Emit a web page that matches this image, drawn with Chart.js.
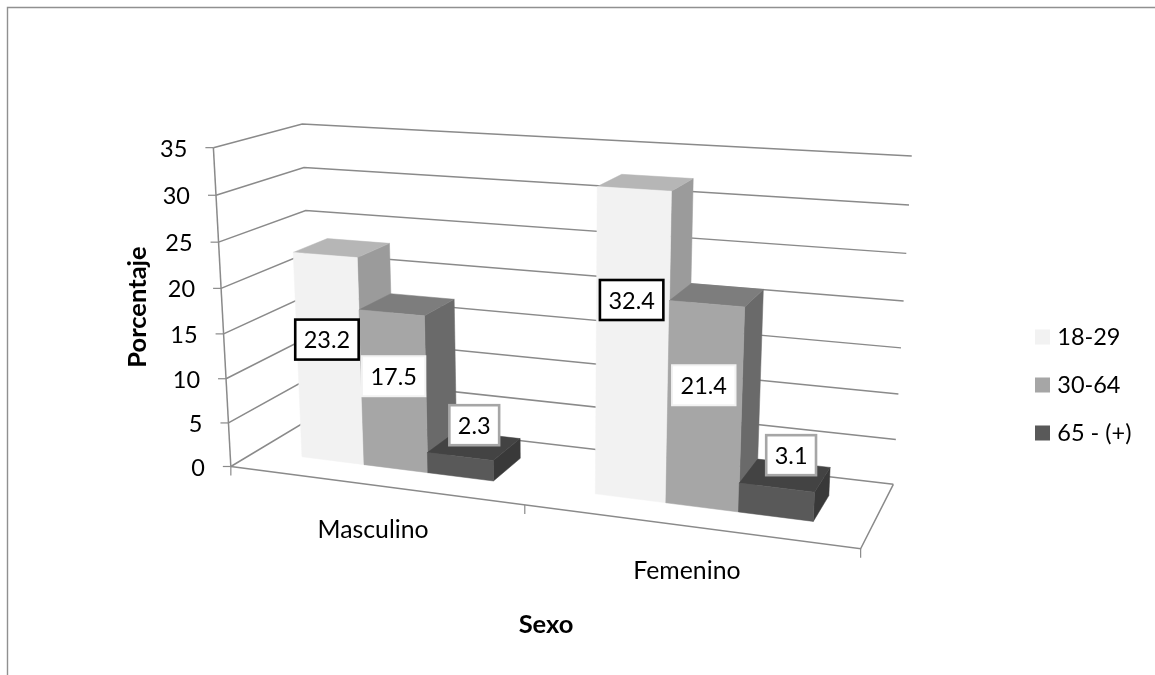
<!DOCTYPE html>
<html><head><meta charset="utf-8">
<style>html,body{margin:0;padding:0;background:#fff}canvas{display:block}</style>
<script src="https://cdn.jsdelivr.net/npm/chart.js@4"></script>
</head><body>
<canvas id="c" width="1155" height="675"></canvas>
<script>
const categories = ["Masculino", "Femenino"];
const seriesNames = ["18-29", "30-64", "65 - (+)"];
const values1829 = [23.2, 32.4];
const values3064 = [17.5, 21.4];
const values65 = [2.3, 3.1];
const yMin = 0, yMax = 35, yStep = 5;

const FONT = "Lato";
const FS_NUM = 23.5, FS_CAT = 24.8, FS_TITLE = 25.5;
const frontColors = ["#f2f2f2", "#a6a6a6", "#595959"];
const labelBorders = ["#000000", "#f2f2f2", "#a6a6a6"];
const labelBorderWidths = [2.6, 2, 2.6];
const labelNudge = [[[-2,-20],[-0.5,-47.5]],[[0,-15.5],[-0.5,-22]],[[14,-41.5],[15,-47]]];
const depth = [0.29, 0.70];

// camera calibration of the 3-D box: [u, d, value share] -> [screen x, y]
const calib = [
 [0,0,0,230.7,466],[0,0,1,213.3,147.7],[0,1,1,302.3,124],[1,1,1,911.7,155.7],
 [1,1,0,893.3,484],[1,0,0,860.7,549],[0,1,0,314,417],
 [0,0,5/7,218.3,242.3],[0,1,5/7,305.7,210],[1,1,5/7,906.3,253.3],
 [1,1,3/7,901,348],[0,0,3/7,224,334],[1,1,6/7,909,205.3],[0,1,6/7,304,167.7]
];
function solveCamera(pts){
  const A=[],b=[];
  for(const [X,Y,Z,x,y] of pts){
    A.push([X,Y,Z,1,0,0,0,0,-x*X,-x*Y,-x*Z]); b.push(x);
    A.push([0,0,0,0,X,Y,Z,1,-y*X,-y*Y,-y*Z]); b.push(y);
  }
  const n=11, M=[];
  for(let i=0;i<n;i++){
    const r=new Array(n+1).fill(0);
    for(let k=0;k<A.length;k++){
      for(let j=0;j<n;j++) r[j]+=A[k][i]*A[k][j];
      r[n]+=A[k][i]*b[k];
    }
    M.push(r);
  }
  for(let i=0;i<n;i++){
    let p=i; for(let r=i+1;r<n;r++) if(Math.abs(M[r][i])>Math.abs(M[p][i])) p=r;
    [M[i],M[p]]=[M[p],M[i]];
    for(let r=0;r<n;r++){ if(r===i) continue;
      const f=M[r][i]/M[i][i];
      for(let c=i;c<=n;c++) M[r][c]-=f*M[i][c];
    }
  }
  return M.map((r,i)=>r[n]/r[i]);
}
const cam = solveCamera(calib);
function project(u,d,val){
  const z=val/yMax;
  const w=cam[8]*u+cam[9]*d+cam[10]*z+1;
  return [(cam[0]*u+cam[1]*d+cam[2]*z+cam[3])/w,(cam[4]*u+cam[5]*d+cam[6]*z+cam[7])/w];
}
function shade(hex,f){
  const n=parseInt(hex.slice(1),16);
  return `rgb(${Math.round((n>>16&255)*f)},${Math.round((n>>8&255)*f)},${Math.round((n&255)*f)})`;
}
function poly(ctx,pts,fill){
  ctx.beginPath();
  pts.forEach((p,i)=>i?ctx.lineTo(p[0],p[1]):ctx.moveTo(p[0],p[1]));
  ctx.closePath();
  ctx.fillStyle=fill; ctx.fill();
  ctx.strokeStyle=fill; ctx.lineWidth=0.5; ctx.stroke();
}
function barGeom(chart,el){
  const a=chart.chartArea, yS=chart.scales.y;
  return {u0:(el.x-el.width/2-a.left)/a.width,u1:(el.x+el.width/2-a.left)/a.width,v:yS.getValueForPixel(el.y)};
}
function line(ctx,pts,color,w){
  ctx.beginPath();
  pts.forEach((p,i)=>i?ctx.lineTo(p[0],p[1]):ctx.moveTo(p[0],p[1]));
  ctx.strokeStyle=color; ctx.lineWidth=w; ctx.stroke();
}
const GRID="#8a8a8a";

function drawDataLabels(chart){
  const ctx=chart.ctx;
  ctx.save();
  ctx.font=`${FS_NUM}px ${FONT}`;
  chart.data.datasets.forEach((ds,di)=>{
    chart.getDatasetMeta(di).data.forEach((el,i)=>{
      const g=barGeom(chart,el);
      const p=project((g.u0+g.u1)/2,depth[0],g.v/2);
      const cx=p[0]+labelNudge[di][i][0], cy=p[1]+labelNudge[di][i][1];
      const txt=ds.data[i].toFixed(1), w=ctx.measureText(txt).width+17, h=40;
      ctx.fillStyle="#fff"; ctx.fillRect(cx-w/2,cy-h/2,w,h);
      ctx.strokeStyle=labelBorders[di]; ctx.lineWidth=labelBorderWidths[di]; ctx.strokeRect(cx-w/2,cy-h/2,w,h);
      ctx.fillStyle="#000"; ctx.textAlign="center"; ctx.textBaseline="middle";
      ctx.fillText(txt,cx,cy+1);
    });
  });
  ctx.restore();
}

const scene3d = {
  id:"scene3d",
  afterLayout(chart){
    const lg=chart.legend, pad=lg.options.labels.padding;
    lg.left=1039.5-pad; lg.right=1155; lg.top=300.8; lg.bottom=480; lg.width=lg.right-lg.left; lg.height=lg.bottom-lg.top;
  },
  beforeDraw(chart){
    const ctx=chart.ctx;
    ctx.save();
    ctx.fillStyle="#fff"; ctx.fillRect(0,0,chart.width,chart.height);
    line(ctx,[[7.5,chart.height],[7.5,7.5],[chart.width,7.5]],"#909090",1.4);
    const yS=chart.scales.y;
    yS.ticks.forEach(t=>{
      const a=project(0,0,t.value),b=project(0,1,t.value),c=project(1,1,t.value);
      line(ctx,[a,b,c],GRID,1.5);
      line(ctx,[[a[0]-8,a[1]],a],GRID,1.2);
    });
    line(ctx,[project(0,0,yMin),project(0,0,yMax)],GRID,1.5);
    line(ctx,[project(0,0,yMin),project(1,0,yMin),project(1,1,yMin)],GRID,1.5);
    [0,0.5,1].forEach(u=>{const p=project(u,0,yMin); line(ctx,[p,[p[0],p[1]+9]],GRID,1.2);});
    ctx.restore();
    yS.getLabelItems().forEach((it,i)=>{
      const p=project(0,0,yS.ticks[i].value);
      it.options.translation=[p[0]-26,p[1]+1.5];
      it.options.textAlign="right"; it.options.textBaseline="middle"; it.textOffset=0;
    });
    const xS=chart.scales.x, a=chart.chartArea;
    xS.getLabelItems().forEach((it,i)=>{
      const u=(xS.getPixelForTick(i)-a.left)/a.width, p=project(u,0,yMin);
      it.options.translation=[p[0],p[1]+45];
      it.options.textAlign="center"; it.options.textBaseline="middle"; it.textOffset=0;
    });
  },
  beforeDatasetsDraw(chart){
    // painter's order: left series first, so the next column covers its side face
    chart.data.datasets.forEach((ds,di)=>{
      const meta=chart.getDatasetMeta(di);
      meta.data.forEach(el=>{
        el.draw=function(ctx){
          const g=barGeom(chart,el), col=ds.backgroundColor, [d0,d1]=depth;
          poly(ctx,[project(g.u1,d0,0),project(g.u1,d1,0),project(g.u1,d1,g.v),project(g.u1,d0,g.v)],shade(col,0.64));
          poly(ctx,[project(g.u0,d0,g.v),project(g.u1,d0,g.v),project(g.u1,d1,g.v),project(g.u0,d1,g.v)],shade(col,0.75));
          poly(ctx,[project(g.u0,d0,0),project(g.u1,d0,0),project(g.u1,d0,g.v),project(g.u0,d0,g.v)],col);
        };
      });
      meta.controller.draw();
    });
    drawDataLabels(chart);
    return false;
  }
};

const allValues=[values1829,values3064,values65];
new Chart(document.getElementById("c"),{
  type:"bar",
  data:{labels:categories,datasets:seriesNames.map((n,i)=>({
    label:n,data:allValues[i],backgroundColor:frontColors[i],borderWidth:0,
    categoryPercentage:0.667,barPercentage:1
  }))},
  plugins:[scene3d],
  options:{
    responsive:false,animation:false,
    layout:{padding:{left:122,top:148,right:294,bottom:35}},
    plugins:{
      tooltip:{enabled:false},
      legend:{
        position:"chartArea",align:"start",
        labels:{boxWidth:6,boxHeight:6,padding:24.5,color:"#000",font:{family:FONT,size:FS_NUM},
          generateLabels(chart){
            return Chart.defaults.plugins.legend.labels.generateLabels(chart)
              .map(l=>({...l,lineWidth:9,strokeStyle:l.fillStyle}));
          }}
      }
    },
    scales:{
      x:{
        grid:{display:false},border:{display:false},
        ticks:{color:"#000",font:{family:FONT,size:FS_CAT},maxRotation:0,autoSkip:false},
        title:{display:true,text:"Sexo",color:"#000",padding:0,font:{family:FONT,size:FS_TITLE,weight:"bold"}},
        afterFit(s){s.height=174;}
      },
      y:{
        min:yMin,max:yMax,
        grid:{display:false},border:{display:false},
        ticks:{stepSize:yStep,color:"#000",font:{family:FONT,size:FS_NUM},autoSkip:false},
        title:{display:true,text:"Porcentaje",color:"#000",padding:0,font:{family:FONT,size:FS_TITLE,weight:"bold"}},
        afterFit(s){s.width=109;}
      }
    }
  }
});
</script>
</body></html>
